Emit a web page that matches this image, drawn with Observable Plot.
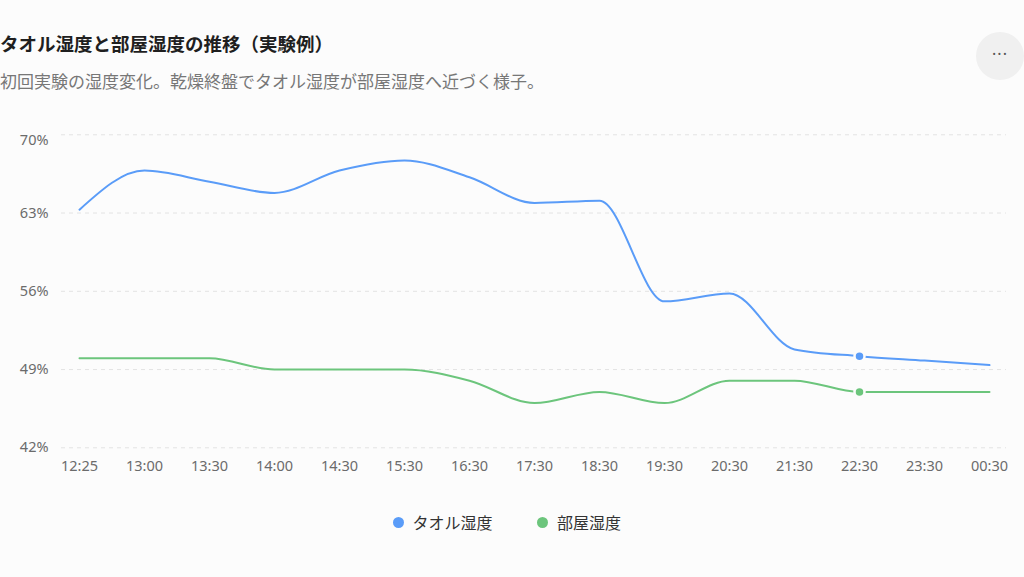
<!DOCTYPE html>
<html><head><meta charset="utf-8">
<script src="https://cdn.jsdelivr.net/npm/d3@7"></script>
<script src="https://cdn.jsdelivr.net/npm/@observablehq/plot@0.6"></script>
<style>
html,body{margin:0;padding:0;background:#fcfcfc;width:1024px;height:577px;overflow:hidden;font-family:"Noto Sans","Noto Sans CJK JP",sans-serif;}
#title{position:absolute;left:0px;top:31px;font-size:18.5px;font-weight:700;color:#1f1f1f;line-height:26px;white-space:nowrap;}
#subtitle{position:absolute;left:0px;top:70px;font-size:17px;color:#777;line-height:24px;white-space:nowrap;}
#more{position:absolute;left:976px;top:32px;width:48px;height:48px;border-radius:50%;background:#f0f0f0;color:#555;font-size:16px;text-align:center;line-height:44px;letter-spacing:1px;}
#chart{position:absolute;left:0;top:110px;}
#legend{position:absolute;top:511px;left:0;width:1024px;height:24px;font-size:16px;color:#333;}
.item{position:absolute;top:0;line-height:24px;white-space:nowrap;}
.sw{display:inline-block;width:11px;height:11px;border-radius:50%;vertical-align:middle;margin-right:9px;position:relative;top:-2px;}
</style></head>
<body>
<div id="title">タオル湿度と部屋湿度の推移（実験例）</div>
<div id="subtitle">初回実験の湿度変化。乾燥終盤でタオル湿度が部屋湿度へ近づく様子。</div>
<div id="more">···</div>
<div id="chart"></div>
<div id="legend"></div>
<script>
const times = ["12:25","13:00","13:30","14:00","14:30","15:30","16:30","17:30","18:30","19:30","20:30","21:30","22:30","23:30","00:30"];
const towel = [63.3, 66.8, 65.8, 64.8, 66.8, 67.7, 66.2, 63.9, 64.1, 55.1, 55.8, 50.8, 50.2, 49.8, 49.4];
const room  = [50, 50, 50, 49, 49, 49, 48, 46, 47, 46, 48, 48, 47, 47, 47];
const seriesNames = ["タオル湿度", "部屋湿度"];
const seriesColors = ["#5a9cf8", "#6cc57c"];
const yTicks = [42, 49, 56, 63, 70];
const highlightTime = "22:30";

const data = [];
times.forEach((t, i) => {
  data.push({time: t, value: towel[i], series: seriesNames[0]});
  data.push({time: t, value: room[i], series: seriesNames[1]});
});
const highlighted = data.filter(d => d.time === highlightTime);
const topTick = yTicks[yTicks.length - 1];
const fmt = d => d + "%";

const chart = Plot.plot({
  width: 1024, height: 380,
  marginTop: 24.3, marginBottom: 42.7, marginLeft: 61, marginRight: 18,
  style: {background: "transparent", fontFamily: '"Noto Sans","Noto Sans CJK JP",sans-serif', fontSize: "14.5px", color: "#6b6b6b", overflow: "visible"},
  x: {type: "point", domain: times, padding: 0.25, label: null},
  y: {domain: [42, 70], label: null},
  color: {domain: seriesNames, range: seriesColors},
  marks: [
    Plot.ruleY(yTicks, {stroke: "#e3e3e3", strokeDasharray: "4,4", strokeWidth: 1}),
    Plot.axisY({ticks: yTicks.filter(t => t !== topTick), tickSize: 0, tickPadding: 13, tickFormat: fmt, label: null}),
    Plot.axisY({ticks: [topTick], tickSize: 0, tickPadding: 13, dy: 6, tickFormat: fmt, label: null}),
    Plot.axisX({tickSize: 0, tickPadding: 13, label: null}),
    Plot.line(data, {x: "time", y: "value", z: "series", stroke: "series", curve: "monotone-x", strokeWidth: 2}),
    Plot.dot(highlighted, {x: "time", y: "value", fill: "series", stroke: "#fcfcfc", strokeWidth: 2.5, r: 5})
  ]
});
document.getElementById("chart").appendChild(chart);

const legend = document.getElementById("legend");
const lx = [392.5, 537];
seriesNames.forEach((n, i) => {
  const it = document.createElement("div");
  it.className = "item";
  it.style.left = lx[i] + "px";
  it.innerHTML = `<span class="sw" style="background:${seriesColors[i]}"></span>${n}`;
  legend.appendChild(it);
});
</script>
</body></html>
